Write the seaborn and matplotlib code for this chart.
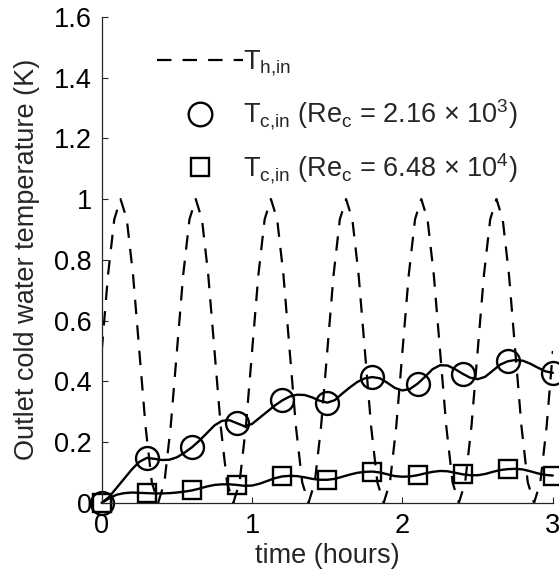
import numpy as np
import pandas as pd
import matplotlib
matplotlib.use("Agg")
import matplotlib.pyplot as plt
from matplotlib.lines import Line2D
from matplotlib.ticker import FuncFormatter
import seaborn as sns

# data --------------------------------------------------------------------

# hot inlet temperature, sampled every 1/24 hour
t_hot = np.arange(73) / 24.0
T_hot = [0.5, 0.75, 0.933, 1.0, 0.933, 0.75, 0.5, 0.25, 0.067, 0.0, 0.067, 0.25,
         0.5, 0.75, 0.933, 1.0, 0.933, 0.75, 0.5, 0.25, 0.067, 0.0, 0.067, 0.25,
         0.5, 0.75, 0.933, 1.0, 0.933, 0.75, 0.5, 0.25, 0.067, 0.0, 0.067, 0.25,
         0.5, 0.75, 0.933, 1.0, 0.933, 0.75, 0.5, 0.25, 0.067, 0.0, 0.067, 0.25,
         0.5, 0.75, 0.933, 1.0, 0.933, 0.75, 0.5, 0.25, 0.067, 0.0, 0.067, 0.25,
         0.5, 0.75, 0.933, 1.0, 0.933, 0.75, 0.5, 0.25, 0.067, 0.0, 0.067, 0.25,
         0.5]

# outlet cold water temperature, sampled every 0.05 hour
t_cold = np.arange(61) * 0.05
T_low_re = [0.0, 0.02, 0.05, 0.08, 0.11, 0.135, 0.148, 0.145, 0.141, 0.142,
            0.15, 0.165, 0.183, 0.205, 0.23, 0.255, 0.27, 0.272, 0.262, 0.252,
            0.26, 0.28, 0.30, 0.32, 0.337, 0.35, 0.356, 0.355, 0.347, 0.336,
            0.330, 0.338, 0.36, 0.38, 0.398, 0.41, 0.414, 0.41, 0.395, 0.378,
            0.37, 0.375, 0.392, 0.415, 0.44, 0.453, 0.452, 0.44, 0.425, 0.412,
            0.407, 0.415, 0.435, 0.455, 0.466, 0.47, 0.468, 0.458, 0.445, 0.433,
            0.428]
T_high_re = [0.0, 0.015, 0.027, 0.032, 0.034, 0.033, 0.032, 0.031, 0.031, 0.032,
             0.034, 0.037, 0.041, 0.047, 0.054, 0.059, 0.061, 0.061, 0.059, 0.056,
             0.057, 0.063, 0.072, 0.081, 0.087, 0.089, 0.088, 0.084, 0.079, 0.076,
             0.076, 0.079, 0.086, 0.093, 0.099, 0.102, 0.103, 0.10, 0.094, 0.088,
             0.086, 0.087, 0.091, 0.097, 0.102, 0.105, 0.104, 0.099, 0.094, 0.091,
             0.091, 0.095, 0.102, 0.108, 0.111, 0.112, 0.11, 0.104, 0.097, 0.092,
             0.09]

labels = [r"T$_{h{,}in}$",
          r"T$_{c{,}in}$ (Re$_c$ = 2.16 × 10$^3$)",
          r"T$_{c{,}in}$ (Re$_c$ = 6.48 × 10$^4$)"]
x_ticks = [0, 1, 2, 3]
y_ticks = [0, 0.2, 0.4, 0.6, 0.8, 1.0, 1.2, 1.4, 1.6]

# style ---------------------------------------------------------------------
sns.set_style("ticks")
plt.rcParams['font.family'] = ['Liberation Sans', 'DejaVu Sans']
plt.rcParams['mathtext.fontset'] = 'custom'
plt.rcParams['mathtext.rm'] = 'Liberation Sans'
plt.rcParams['mathtext.it'] = 'Liberation Sans'
plt.rcParams['mathtext.bf'] = 'Liberation Sans:bold'

size_txt = 19.5
axis_col = '#262626'
dash = (0, (6.5, 5.0))

fig = plt.figure(figsize=(5.59, 5.78), dpi=100)
ax = fig.add_axes([0.182, 0.130, 0.807, 0.841])

df_hot = pd.DataFrame({'t': t_hot, 'T': T_hot})
df_cold = pd.DataFrame({'t': t_cold, 'low': T_low_re, 'high': T_high_re})

sns.lineplot(data=df_hot, x='t', y='T', ax=ax, color='k', linewidth=1.6,
             linestyle=dash)
sns.lineplot(data=df_cold, x='t', y='low', ax=ax, color='k', linewidth=1.7,
             marker='o', markevery=6, markersize=16.5, markerfacecolor='none',
             markeredgecolor='k', markeredgewidth=1.7, clip_on=False)
sns.lineplot(data=df_cold, x='t', y='high', ax=ax, color='k', linewidth=1.7,
             marker='s', markevery=6, markersize=12.5, markerfacecolor='none',
             markeredgecolor='k', markeredgewidth=1.7, clip_on=False)

ax.set_xlim(0, 3)
ax.set_ylim(0, 1.6)
ax.set_xticks(x_ticks)
ax.set_yticks(y_ticks)
ax.xaxis.set_major_formatter(FuncFormatter(lambda v, p: f"{v:g}"))
ax.yaxis.set_major_formatter(FuncFormatter(lambda v, p: f"{v:g}"))
ax.tick_params(direction='in', length=4, width=0.8, colors=axis_col,
               labelcolor='k', labelsize=size_txt, pad=7)
for side in ['top', 'right']:
    ax.spines[side].set_visible(False)
for side in ['left', 'bottom']:
    ax.spines[side].set_color(axis_col)
    ax.spines[side].set_linewidth(0.9)

ax.set_xlabel('time (hours)', fontsize=size_txt, labelpad=3)
ax.set_ylabel('Outlet cold water temperature (K)', fontsize=size_txt, labelpad=10)

handles = [
    Line2D([], [], color='k', linewidth=1.6, linestyle=dash),
    Line2D([], [], color='k', linestyle='none', marker='o', markersize=17,
           markerfacecolor='none', markeredgewidth=1.7),
    Line2D([], [], color='k', linestyle='none', marker='s', markersize=12.5,
           markerfacecolor='none', markeredgewidth=1.7),
]
ax.legend(handles, labels, loc='upper left', bbox_to_anchor=(0.092, 0.962),
          frameon=False, fontsize=size_txt, handlelength=3.2,
          handletextpad=0.0, labelspacing=0.71, borderpad=0.0)

fig.savefig('out.png', dpi=100)
